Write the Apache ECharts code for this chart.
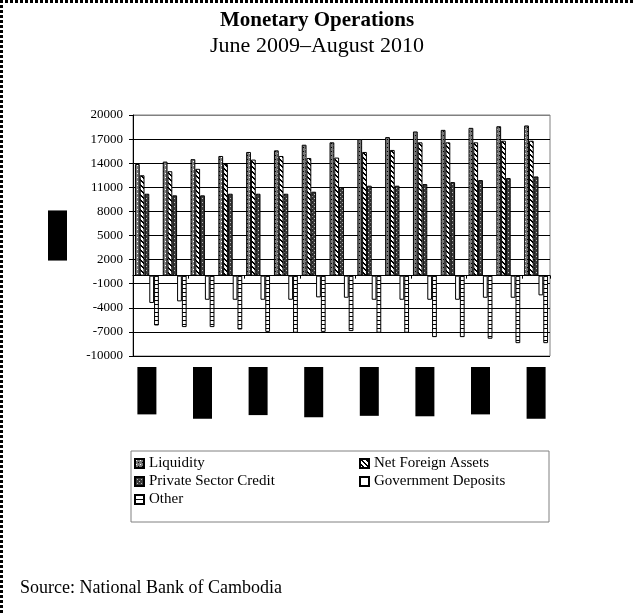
<!DOCTYPE html>
<html>
<head>
<meta charset="utf-8">
<script src="https://cdn.jsdelivr.net/npm/echarts@6/dist/echarts.min.js"></script>
<style>
  html, body { margin: 0; padding: 0; background: #fff; }
  #chart { width: 634px; height: 613px; }
</style>
</head>
<body>
<div id="chart"></div>
<script>
// months, June 2009 - August 2010
var months = ['Jun-09', 'Jul-09', 'Aug-09', 'Sep-09', 'Oct-09', 'Nov-09', 'Dec-09', 'Jan-10',
  'Feb-10', 'Mar-10', 'Apr-10', 'May-10', 'Jun-10', 'Jul-10', 'Aug-10'];

var liquidity = [13900, 14200, 14500, 14900, 15400, 15600, 16300, 16600, 17000, 17250, 17950, 18150, 18400, 18600, 18700];
var netForeignAssets = [12500, 13000, 13300, 13900, 14450, 14900, 14650, 14700, 15400, 15650, 16600, 16600, 16600, 16800, 16800];
var privateSectorCredit = [10200, 10000, 10000, 10200, 10200, 10200, 10450, 11000, 11200, 11200, 11400, 11650, 11900, 12150, 12350];
var governmentDeposits = [-3400, -3200, -3000, -3000, -3000, -3000, -2700, -2750, -3000, -3000, -3000, -3000, -2750, -2750, -2450];
var other = [-6200, -6400, -6400, -6700, -7000, -7100, -7000, -6900, -7100, -7100, -7650, -7650, -7850, -8400, -8400];

var yMin = -10000, yMax = 20000, yStep = 3000;
var serif = 'Liberation Serif';

// small canvas patterns, like the old excel fills
function pattern(size, draw) {
  var c = document.createElement('canvas');
  c.width = size; c.height = size;
  var ctx = c.getContext('2d');
  draw(ctx);
  return { image: c, repeat: 'repeat' };
}

var liqFill = pattern(4, function (ctx) {
  ctx.fillStyle = '#7a7a7a'; ctx.fillRect(0, 0, 4, 4);
  ctx.fillStyle = '#ffffff'; ctx.fillRect(1, 1, 1, 1);
  ctx.fillStyle = '#000000'; ctx.fillRect(3, 3, 1, 1);
});
var nfaFill = pattern(5, function (ctx) {
  ctx.fillStyle = '#ffffff'; ctx.fillRect(0, 0, 5, 5);
  ctx.fillStyle = '#000000';
  for (var i = 0; i < 5; i++) { ctx.fillRect(i, i, 1, 1); ctx.fillRect((i + 1) % 5, i, 1, 1); }
});
var pscFill = pattern(4, function (ctx) {
  ctx.fillStyle = '#3a3a3a'; ctx.fillRect(0, 0, 4, 4);
  ctx.fillStyle = '#bdbdbd'; ctx.fillRect(0, 0, 1, 1); ctx.fillRect(2, 2, 1, 1);
});
var otherFill = pattern(4, function (ctx) {
  ctx.fillStyle = '#ffffff'; ctx.fillRect(0, 0, 4, 4);
  ctx.fillStyle = '#000000'; ctx.fillRect(0, 0, 4, 1);
});

function barSeries(name, data, fill) {
  return {
    name: name,
    type: 'bar',
    data: data,
    barGap: '0%',
    barCategoryGap: '14%',
    itemStyle: { color: fill, borderColor: '#000', borderWidth: 1 }
  };
}

// gridlines black, top one gray like the frame
var splitColors = [];
for (var v = yMin; v <= yMax; v += yStep) splitColors.push(v === yMax ? '#808080' : '#000');

var legendText = { fontFamily: serif, fontSize: 15, color: '#000' };

var chart = echarts.init(document.getElementById('chart'));

var option = {
  animation: false,
  backgroundColor: '#fff',
  textStyle: { fontFamily: serif, color: '#000' },
  title: {
    text: 'Monetary Operations',
    subtext: 'June 2009\u2013August 2010',
    left: 'center',
    top: 5,
    itemGap: 4,
    textStyle: { fontFamily: serif, fontSize: 21, fontWeight: 'bold', color: '#000' },
    subtextStyle: { fontFamily: serif, fontSize: 22, color: '#000' }
  },
  legend: [{
    data: ['Liquidity', 'Private Sector Credit', 'Other'],
    orient: 'vertical',
    left: 129, top: 451,
    itemWidth: 9, itemHeight: 9, itemGap: 3,
    icon: 'rect',
    textStyle: legendText
  }, {
    data: ['Net Foreign Assets', 'Government Deposits'],
    orient: 'vertical',
    left: 354, top: 451,
    itemWidth: 9, itemHeight: 9, itemGap: 3,
    icon: 'rect',
    textStyle: legendText
  }],
  grid: {
    left: 133, right: 84, top: 115, bottom: 257,
    show: true, borderColor: '#808080', borderWidth: 1
  },
  xAxis: [{
    type: 'category',
    data: months,
    axisLine: { onZero: true, lineStyle: { color: '#000', width: 1 } },
    axisTick: { show: true, length: 3, lineStyle: { color: '#000' } },
    axisLabel: { show: false },
    splitLine: { show: false }
  }, {
    type: 'category',
    data: months,
    position: 'bottom',
    axisLine: { show: false },
    axisTick: { show: false },
    axisLabel: {
      interval: 1,
      rotate: 90,
      margin: 11,
      fontFamily: serif,
      fontSize: 13,
      color: '#000',
      backgroundColor: '#000',
      padding: [3, 6]
    }
  }],
  yAxis: {
    type: 'value',
    min: yMin, max: yMax, interval: yStep,
    name: 'Billion',
    nameLocation: 'middle',
    nameRotate: 90,
    nameGap: 66,
    nameTextStyle: { fontFamily: serif, fontSize: 13, color: '#000', backgroundColor: '#000', padding: [3, 7] },
    axisLine: { show: true, lineStyle: { color: '#000' } },
    axisTick: { show: true, length: 4, lineStyle: { color: '#000' } },
    axisLabel: {
      fontFamily: serif, fontSize: 13, color: '#000', margin: 10,
      formatter: function (val) { return String(val); }
    },
    splitLine: { show: true, lineStyle: { color: splitColors, width: 1 } }
  },
  series: [
    barSeries('Liquidity', liquidity, liqFill),
    barSeries('Net Foreign Assets', netForeignAssets, nfaFill),
    barSeries('Private Sector Credit', privateSectorCredit, pscFill),
    barSeries('Government Deposits', governmentDeposits, '#fff'),
    barSeries('Other', other, otherFill)
  ],
  graphic: [
    // page frame, dashed on top and left
    { type: 'line', shape: { x1: 0, y1: 1.5, x2: 634, y2: 1.5 }, style: { stroke: '#000', lineWidth: 3, lineDash: [3, 2] } },
    { type: 'line', shape: { x1: 1.5, y1: 0, x2: 1.5, y2: 613 }, style: { stroke: '#000', lineWidth: 3, lineDash: [3, 2] } },
    // legend frame
    { type: 'rect', shape: { x: 131, y: 451, width: 418, height: 71 }, style: { fill: 'none', stroke: '#808080', lineWidth: 1 }, z: -1 },
    {
      type: 'text', left: 20, top: 579,
      style: { text: 'Source: National Bank of Cambodia', font: '18px "Liberation Serif"', fill: '#000' }
    }
  ]
};

chart.setOption(option);
</script>
</body>
</html>
